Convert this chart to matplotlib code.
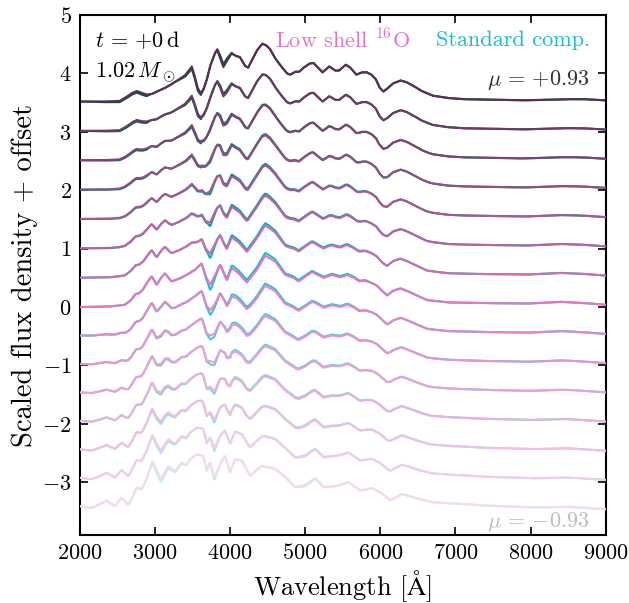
import numpy as np
import matplotlib
matplotlib.use("Agg")
import matplotlib.pyplot as plt
from matplotlib.colors import to_rgb

plt.rcParams['font.family'] = 'serif'
plt.rcParams['font.serif'] = ['cmr10', 'DejaVu Serif']
plt.rcParams['mathtext.fontset'] = 'cm'
plt.rcParams['axes.formatter.use_mathtext'] = True
plt.rcParams['axes.unicode_minus'] = True

# viewing angles, top to bottom (offset 3.5 ... -3.5)
mu = [0.93, 0.80, 0.67, 0.53, 0.40, 0.27, 0.13, 0.0,
      -0.13, -0.27, -0.40, -0.53, -0.67, -0.80, -0.93]
offsets = [3.5, 3.0, 2.5, 2.0, 1.5, 1.0, 0.5, 0.0,
           -0.5, -1.0, -1.5, -2.0, -2.5, -3.0, -3.5]

# template spectra (low shell 16O model)
wave_top = [2000, 2300, 2530, 2620, 2700, 2760, 2820, 2890, 2960, 3040, 3130, 3200,
            3270, 3350, 3400, 3450, 3490, 3530, 3570, 3610, 3650, 3690, 3740, 3800,
            3830, 3870, 3910, 3960, 4020, 4080, 4130, 4200, 4240, 4300, 4360, 4430,
            4480, 4530, 4600, 4680, 4760, 4800, 4870, 4920, 4980, 5060, 5110, 5170,
            5230, 5320, 5400, 5450, 5540, 5600, 5680, 5760, 5820, 5880, 5940, 5990,
            6040, 6100, 6170, 6270, 6350, 6450, 6550, 6700, 6900, 7100, 7500, 7900,
            8200, 8500, 8700, 9000]
flux_top = [0.02, 0.02, 0.03, 0.10, 0.17, 0.20, 0.17, 0.14, 0.15, 0.20, 0.25, 0.30,
            0.36, 0.43, 0.47, 0.55, 0.62, 0.45, 0.25, 0.16, 0.25, 0.40, 0.65, 0.85,
            0.89, 0.75, 0.61, 0.72, 0.84, 0.80, 0.78, 0.63, 0.60, 0.75, 0.90, 1.01,
            0.98, 0.92, 0.76, 0.62, 0.50, 0.48, 0.53, 0.53, 0.60, 0.67, 0.68, 0.60,
            0.52, 0.62, 0.55, 0.55, 0.65, 0.60, 0.48, 0.52, 0.52, 0.48, 0.40, 0.26,
            0.19, 0.25, 0.33, 0.38, 0.35, 0.28, 0.20, 0.12, 0.08, 0.06, 0.05, 0.04,
            0.05, 0.06, 0.06, 0.04]

wave_mid = [2000, 2400, 2600, 2680, 2740, 2790, 2840, 2890, 2956, 3022, 3080, 3133,
            3180, 3222, 3311, 3422, 3533, 3622, 3676, 3733, 3800, 3867, 3956, 4022,
            4111, 4222, 4356, 4467, 4600, 4733, 4844, 4911, 5000, 5089, 5170, 5244,
            5356, 5467, 5560, 5650, 5720, 5800, 5867, 5950, 6020, 6089, 6170, 6267,
            6350, 6450, 6622, 6900, 7300, 7956, 8400, 8700, 9000]
flux_mid = [0.00, 0.01, 0.04, 0.12, 0.22, 0.24, 0.30, 0.41, 0.53, 0.38, 0.50, 0.58,
            0.50, 0.44, 0.48, 0.55, 0.64, 0.75, 0.53, 0.38, 0.55, 0.73, 0.45, 0.67,
            0.58, 0.42, 0.64, 0.88, 0.78, 0.55, 0.50, 0.44, 0.52, 0.60, 0.55, 0.50,
            0.55, 0.51, 0.55, 0.50, 0.44, 0.45, 0.42, 0.37, 0.28, 0.20, 0.28, 0.32,
            0.28, 0.22, 0.12, 0.08, 0.07, 0.06, 0.09, 0.07, 0.04]

wave_bot = [2000, 2156, 2260, 2356, 2467, 2556, 2644, 2700, 2756, 2822, 2889, 2964,
            3020, 3080, 3178, 3267, 3356, 3410, 3467, 3556, 3644, 3689, 3733, 3791,
            3867, 3933, 4000, 4067, 4156, 4267, 4340, 4422, 4600, 4733, 4867, 5000,
            5133, 5244, 5400, 5578, 5733, 5889, 6000, 6133, 6289, 6467, 6689, 7400,
            8067, 8511, 9000]
flux_bot = [0.09, 0.06, 0.12, 0.19, 0.09, 0.24, 0.11, 0.25, 0.41, 0.38, 0.56, 0.87,
            0.72, 0.56, 0.78, 0.70, 0.84, 0.80, 0.90, 0.98, 0.95, 0.70, 0.84, 0.59,
            0.81, 0.95, 0.67, 0.90, 0.87, 0.61, 0.70, 0.78, 0.73, 0.59, 0.41, 0.43,
            0.56, 0.41, 0.43, 0.50, 0.36, 0.40, 0.33, 0.19, 0.30, 0.23, 0.16, 0.10,
            0.07, 0.08, 0.04]

# standard composition minus low shell, read where the two differ
dwave = [2000, 2800, 2880, 2950, 3080, 3250, 3560, 3600, 3700, 3740, 3790,
         3870, 3960, 4050, 4300, 4500, 4700, 5000, 5600, 6000, 9000]
dtop = [0, -0.03, -0.03, 0, 0, 0, -0.05, -0.03, 0, 0, 0,
        0.05, 0.04, 0, 0, 0, 0, 0, 0, 0, 0]
dmid = [0, 0, 0, 0, 0, 0, 0, 0, -0.04, -0.10, -0.05,
        0, 0.03, 0.05, 0.04, 0.05, 0.03, 0.02, 0.02, 0, 0]
dbot = [0, 0, 0, -0.03, -0.06, -0.03, 0, 0, 0, 0, -0.05,
        0, 0, 0, 0, 0, 0, 0.02, 0, 0, 0]

pink = to_rgb('#e377c2')
cyan = to_rgb('#17becf')


def shade(c, m):
    c = np.array(c)
    if m >= 0:
        return tuple(c * (1 - 0.6 * m / 0.93))
    w = 0.72 * (-m) / 0.93
    return tuple(c + (1 - c) * w)


lam = np.arange(2000, 9001, 10)
tpl = [np.interp(lam, wave_top, flux_top), np.interp(lam, wave_mid, flux_mid),
       np.interp(lam, wave_bot, flux_bot)]
dlt = [np.interp(lam, dwave, dtop), np.interp(lam, dwave, dmid),
       np.interp(lam, dwave, dbot)]

fig = plt.figure(figsize=(6.29, 6.03), dpi=100)
ax = fig.add_axes([0.127, 0.113, 0.836, 0.862])

for i, (m, off) in enumerate(zip(mu, offsets)):
    if i <= 7:
        a, b, w = 0, 1, i / 7
    else:
        a, b, w = 1, 2, (i - 7) / 7
    f_low = (1 - w) * tpl[a] + w * tpl[b]
    f_std = f_low + (1 - w) * dlt[a] + w * dlt[b]
    ax.plot(lam, f_std + off, color=shade(cyan, m), lw=1.5, zorder=2 + i)
    ax.plot(lam, f_low + off, color=shade(pink, m), lw=1.5, zorder=2.5 + i)

ax.set_xlim(2000, 9000)
ax.set_ylim(-3.9, 5)
ax.set_xticks(range(2000, 9001, 1000))
ax.set_yticks(range(-3, 6))
ax.tick_params(direction='in', top=True, right=True, length=6, width=1.2,
               labelsize=16, pad=6)
for s in ax.spines.values():
    s.set_linewidth(1.5)

ax.set_xlabel(r'Wavelength [$\mathrm{\AA}$]', fontsize=19)
ax.set_ylabel('Scaled flux density + offset', fontsize=20.5, labelpad=3)

ax.text(0.028, 0.952, r'$t\,=\,{+}0\,\mathrm{d}$', transform=ax.transAxes,
        fontsize=16, va='center', ha='left')
ax.text(0.028, 0.89, r'$1.02\,M_\odot$', transform=ax.transAxes,
        fontsize=16, va='center', ha='left')
ax.text(0.5, 0.952, r'Low shell $^{16}$O', transform=ax.transAxes,
        fontsize=16, va='center', ha='center', color=pink)
ax.text(0.97, 0.952, 'Standard comp.', transform=ax.transAxes,
        fontsize=16, va='center', ha='right', color=cyan)
ax.text(0.97, 0.875, r'$\mu\,=\,{+}0.93$', transform=ax.transAxes,
        fontsize=16, va='center', ha='right', color='#333333')
ax.text(0.97, 0.025, r'$\mu\,=\,{-}0.93$', transform=ax.transAxes,
        fontsize=16, va='center', ha='right', color='#bdbdbd')

fig.savefig('out.png', dpi=100)
